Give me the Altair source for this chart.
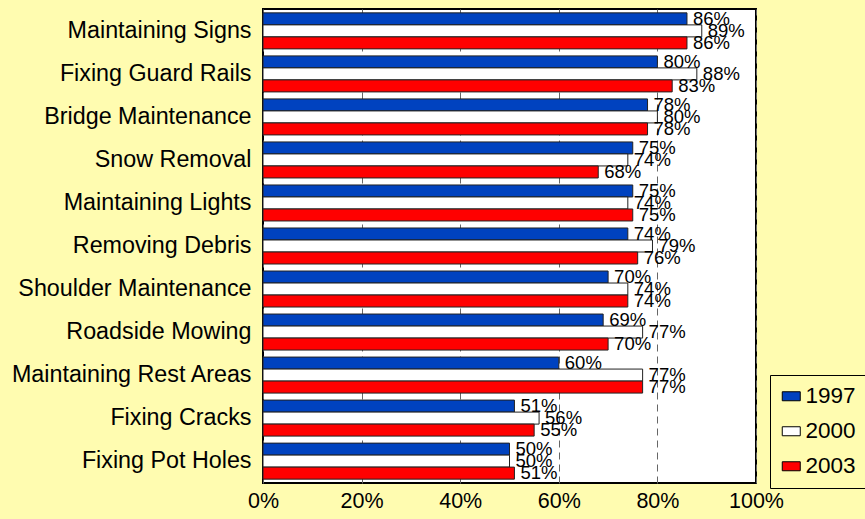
import altair as alt
import pandas as pd

# Survey results: share rated satisfactory, by maintenance task and year
categories = [
    "Maintaining Signs",
    "Fixing Guard Rails",
    "Bridge Maintenance",
    "Snow Removal",
    "Maintaining Lights",
    "Removing Debris",
    "Shoulder Maintenance",
    "Roadside Mowing",
    "Maintaining Rest Areas",
    "Fixing Cracks",
    "Fixing Pot Holes",
]
years = ["1997", "2000", "2003"]
pct_1997 = [86, 80, 78, 75, 75, 74, 70, 69, 60, 51, 50]
pct_2000 = [89, 88, 80, 74, 74, 79, 74, 77, 77, 56, 50]
pct_2003 = [86, 83, 78, 68, 75, 76, 74, 70, 77, 55, 51]
tick_values = [0, 20, 40, 60, 80, 100]

colors = ["#0042BF", "#FFFFFF", "#FF0000"]
page_bg = "#FFFCB0"
font = "Liberation Sans"

rows = []
for yr, vals in zip(years, [pct_1997, pct_2000, pct_2003]):
    for task, v in zip(categories, vals):
        rows.append({"task": task, "year": yr, "pct": v})
df = pd.DataFrame(rows)

base = alt.Chart(df).encode(
    y=alt.Y(
        "task:N",
        sort=categories,
        scale=alt.Scale(paddingInner=0.163, paddingOuter=0.09),
        axis=alt.Axis(
            title=None,
            ticks=False,
            domain=False,
            labelFont=font,
            labelFontSize=23.3,
            labelColor="black",
            labelPadding=12,
            labelLimit=400,
        ),
    ),
    yOffset=alt.YOffset(
        "year:N", sort=years, scale=alt.Scale(paddingInner=0, paddingOuter=0)
    ),
)

bars = base.mark_bar(stroke="#222222", strokeWidth=1).encode(
    x=alt.X(
        "pct:Q",
        scale=alt.Scale(domain=[0, 100], nice=False),
        axis=alt.Axis(
            title=None,
            values=tick_values,
            labelExpr="datum.value + '%'",
            ticks=False,
            domain=False,
            grid=True,
            gridDash=[7, 5],
            gridColor="#666666",
            gridWidth=1,
            labelFont=font,
            labelFontSize=21.5,
            labelColor="black",
            labelPadding=7,
            labelFlush=False,
        ),
    ),
    color=alt.Color(
        "year:N",
        scale=alt.Scale(domain=years, range=colors),
        legend=alt.Legend(
            title=None,
            orient="none",
            legendX=507,
            legendY=366,
            symbolType="M-1,-0.5L1,-0.5L1,0.5L-1,0.5Z",
            symbolSize=324,
            symbolStrokeColor="black",
            symbolStrokeWidth=1,
            symbolOpacity=1,
            labelFont=font,
            labelFontSize=22.5,
            labelColor="black",
            labelOffset=3,
            rowPadding=12,
            padding=10,
            strokeColor="black",
            fillColor=page_bg,
        ),
    ),
)

labels = base.mark_text(
    align="left", baseline="middle", dx=6, font=font, fontSize=18.5, color="black"
).transform_calculate(label="datum.pct + '%'").encode(
    x=alt.X("pct:Q"),
    text=alt.Text("label:N"),
)

chart = (
    alt.layer(bars, labels)
    .properties(
        width=493,
        height=474,
        autosize=alt.AutoSizeParams(type="none"),
        padding={"left": 263, "top": 9, "right": 109, "bottom": 36},
    )
    .configure(background=page_bg)
    .configure_view(stroke="black", strokeWidth=2, fill="white")
)

chart.save("out.html", embed_options={"renderer": "svg", "actions": False})
